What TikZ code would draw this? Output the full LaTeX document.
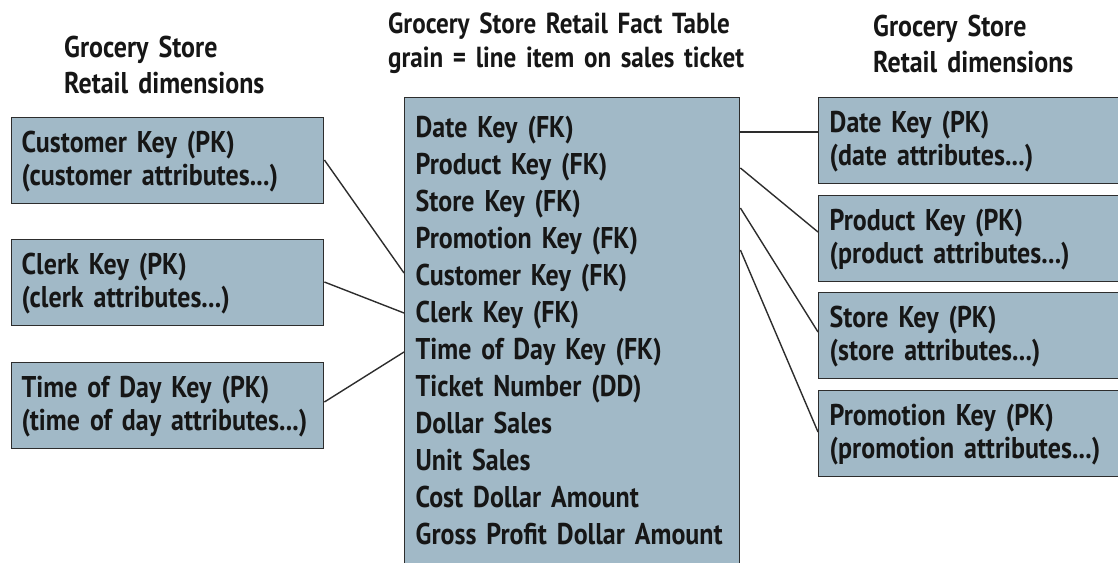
\documentclass[tikz,border=0pt]{standalone}
\usepackage{fontspec}
\setmainfont{PT Sans}[FakeStretch=0.875,
  BoldFont={PT Sans Bold},BoldFeatures={FakeStretch=0.865}]
\usetikzlibrary{calc}
\definecolor{boxfill}{RGB}{161,185,199}
\definecolor{ink}{RGB}{22,22,22}
\definecolor{edge}{RGB}{45,45,45}
% struts that fix the height of a first line and the depth of a last line
\newcommand\firstln[1]{\rule{0pt}{#1pt}}
\newcommand\lastln[1]{\rule[-#1pt]{0pt}{#1pt}}

\begin{document}
\begin{tikzpicture}[x=1pt,y=-1pt,
  title/.style={anchor=base west, inner sep=0pt, text width=#1, align=left,
    text=ink, font=\fontsize{30}{36}\selectfont\bfseries},
  dimbox/.style={draw=edge, line width=1.4pt, fill=boxfill, text=ink,
    anchor=north west, inner xsep=10pt, inner ysep=0pt, minimum height=86pt,
    text width=#1, align=left, font=\fontsize{30}{33}\selectfont\bfseries},
  factbox/.style={draw=edge, line width=1.4pt, fill=boxfill, text=ink,
    anchor=north west, inner xsep=11pt, inner ysep=13pt,
    text width=313pt, align=left, font=\fontsize{30}{37}\selectfont\bfseries},
  conn/.style={draw=edge, line width=1.4pt}]

\useasboundingbox (0,0) rectangle (1118,562);
\clip (0,0) rectangle (1118,562);

% headings
\node[title=240pt] (tleft) at (64,57) {Grocery Store\\Retail dimensions};
\node[title=400pt,font=\fontsize{29}{34}\selectfont\bfseries] (tmid) at (388,33)
  {Grocery Store Retail Fact Table\\grain = line item on sales ticket};
\node[title=240pt] (tright) at (873,36) {Grocery Store\\Retail dimensions};

% fact table
\node[factbox] (fact) at (404,97) {\firstln{27}Date Key (FK)\\
  Product Key (FK)\\
  Store Key (FK)\\
  Promotion Key (FK)\\
  Customer Key (FK)\\
  Clerk Key (FK)\\
  Time of Day Key (FK)\\
  Ticket Number (DD)\\
  Dollar Sales\\
  Unit Sales\\
  Cost Dollar Amount\\
  Gross Profit Dollar Amount\lastln{45}};

% dimensions on the left
\node[dimbox=292pt] (cust) at (11,117)
  {\firstln{25}Customer Key (PK)\\(customer attributes...)\lastln{8}};
\node[dimbox=292pt] (clerk) at (11,239)
  {\firstln{25}Clerk Key (PK)\\(clerk attributes...)\lastln{8}};
\node[dimbox=292pt] (tod) at (11,362)
  {\firstln{25}Time of Day Key (PK)\\(time of day attributes...)\lastln{8}};

% dimensions on the right
\node[dimbox=287pt,inner xsep=11pt] (date) at (818,97)
  {\firstln{25}Date Key (PK)\\(date attributes...)\lastln{8}};
\node[dimbox=287pt,inner xsep=11pt] (prod) at (818,195)
  {\firstln{25}Product Key (PK)\\(product attributes...)\lastln{8}};
\node[dimbox=287pt,inner xsep=11pt] (store) at (818,292)
  {\firstln{25}Store Key (PK)\\(store attributes...)\lastln{8}};
\node[dimbox=287pt,inner xsep=11pt] (promo) at (818,390)
  {\firstln{25}Promotion Key (PK)\\(promotion attributes...)\lastln{8}};

% key links
\draw[conn] ($(fact.north east)+(0,35)$)  -- ($(date.north west)+(0,35)$);
\draw[conn] ($(fact.north east)+(0,71)$)  -- ($(prod.north west)+(0,37)$);
\draw[conn] ($(fact.north east)+(0,111)$) -- ($(store.north west)+(0,40)$);
\draw[conn] ($(fact.north east)+(0,153)$) -- ($(promo.north west)+(0,42)$);
\draw[conn] ($(cust.north east)+(0,43)$)  -- ($(fact.north west)+(0,176)$);
\draw[conn] ($(clerk.north east)+(0,43)$) -- ($(fact.north west)+(0,216)$);
\draw[conn] ($(tod.north east)+(0,40)$)   -- ($(fact.north west)+(0,255)$);
\end{tikzpicture}
\end{document}
